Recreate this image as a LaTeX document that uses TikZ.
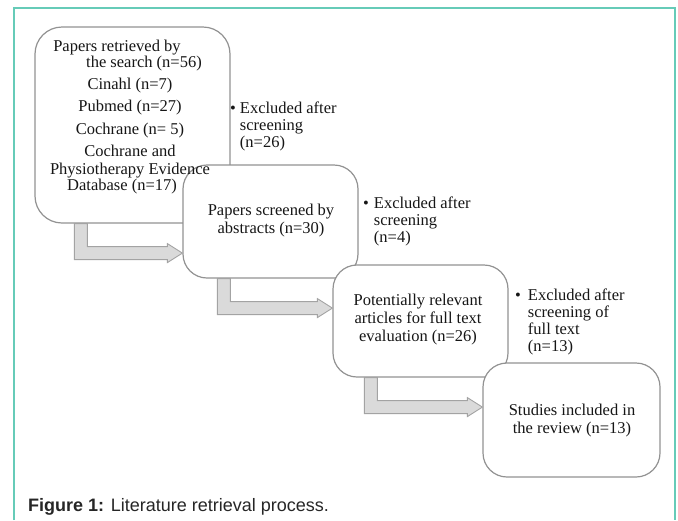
\documentclass[tikz,border=0pt]{standalone}
\usepackage{fontspec}
\setmainfont{Liberation Serif}
\setsansfont{Liberation Sans}
\usetikzlibrary{calc}

\definecolor{framecol}{HTML}{66CBB8}
\definecolor{boxcol}{HTML}{929292}
\definecolor{arrowfill}{HTML}{DADADA}
\definecolor{arrowline}{HTML}{A3A3A3}
\definecolor{textcol}{HTML}{161616}

% grey elbow block arrow: from box, to box, shaft offset
\newcommand{\elbowarrow}[3]{%
  \draw[elbow] let \p1=(#1.south west), \p2=(#2.west) in
    (\x1+#3,\y1) -- (\x1+#3,\y1-36pt) -- (\x2-15pt,\y1-36pt) -- (\x2-15pt,\y1-39pt)
    -- (\x2,\y1-29.5pt) -- (\x2-15pt,\y1-20pt) -- (\x2-15pt,\y1-23pt)
    -- (\x1+#3+13pt,\y1-23pt) -- (\x1+#3+13pt,\y1) -- cycle;}

\begin{document}
\begin{tikzpicture}[x=1pt,y=-1pt,
    box/.style={draw=boxcol,line width=1.2pt,fill=white,rounded corners=24pt},
    boxtext/.style={align=center,text=textcol,font=\fontsize{16.5}{18}\selectfont},
    note/.style={anchor=base west,inner sep=0pt,text=textcol,font=\fontsize{16.5}{17}\selectfont},
    elbow/.style={draw=arrowline,fill=arrowfill,line width=0.9pt},
    caption/.style={anchor=west,inner sep=0pt,font=\sffamily\fontsize{18}{20}\selectfont,text=black!85}]
  \useasboundingbox (0,0) rectangle (678,520);
  \draw[framecol,line width=2pt] (14,520) -- (14,8) -- (675,8) -- (675,520);

  % boxes
  \node[box,minimum width=195pt,minimum height=196pt,rounded corners=27pt] (search) at (132.5,125) {};
  \node[box,minimum width=175pt,minimum height=113pt] (screened) at (270.5,221.5) {};
  \node[box,minimum width=175pt,minimum height=112pt] (relevant) at (420.5,321) {};
  \node[box,minimum width=177pt,minimum height=114pt] (included) at (571.5,420) {};

  % arrows
  \elbowarrow{search}{screened}{40pt}
  \elbowarrow{screened}{relevant}{35pt}
  \elbowarrow{relevant}{included}{32pt}

  % texts
  \node[boxtext,font=\fontsize{16.5}{16}\selectfont] (searchtext) at (130,117)
    {Papers retrieved by\kern26pt\\\kern28pt the search (n=56)\\[6pt]Cinahl (n=7)\\[6pt]Pubmed (n=27)\\[7pt]Cochrane (n= 5)\\[6pt]Cochrane and\\[2pt]Physiotherapy Evidence\\Database (n=17)\kern16pt};
  \node[boxtext] (screenedtext) at (271,221) {Papers screened by\\abstracts (n=30)};
  \node[boxtext] (relevanttext) at (418,320) {Potentially relevant\\articles for full text\\evaluation (n=26)};
  \node[boxtext] (includedtext) at (572,421) {Studies included in\\the review (n=13)};

  \node[note] (excl1) at (230,113)
    {\begin{tabular}[t]{@{}l@{\hspace{4pt}}l@{}}\textbullet & Excluded after\\ & screening\\ & (n=26)\end{tabular}};
  \node[note] (excl2) at (363,208)
    {\begin{tabular}[t]{@{}l@{\hspace{5pt}}l@{}}\textbullet & Excluded after\\ & screening\\ & (n=4)\end{tabular}};
  \node[note] (excl3) at (515,300)
    {\begin{tabular}[t]{@{}l@{\hspace{7pt}}l@{}}\textbullet & Excluded after\\ & screening of\\ & full text\\ & (n=13)\end{tabular}};

  \node[caption] (caption) at (28,507) {\textbf{Figure 1:} Literature retrieval process.};
\end{tikzpicture}
\end{document}
